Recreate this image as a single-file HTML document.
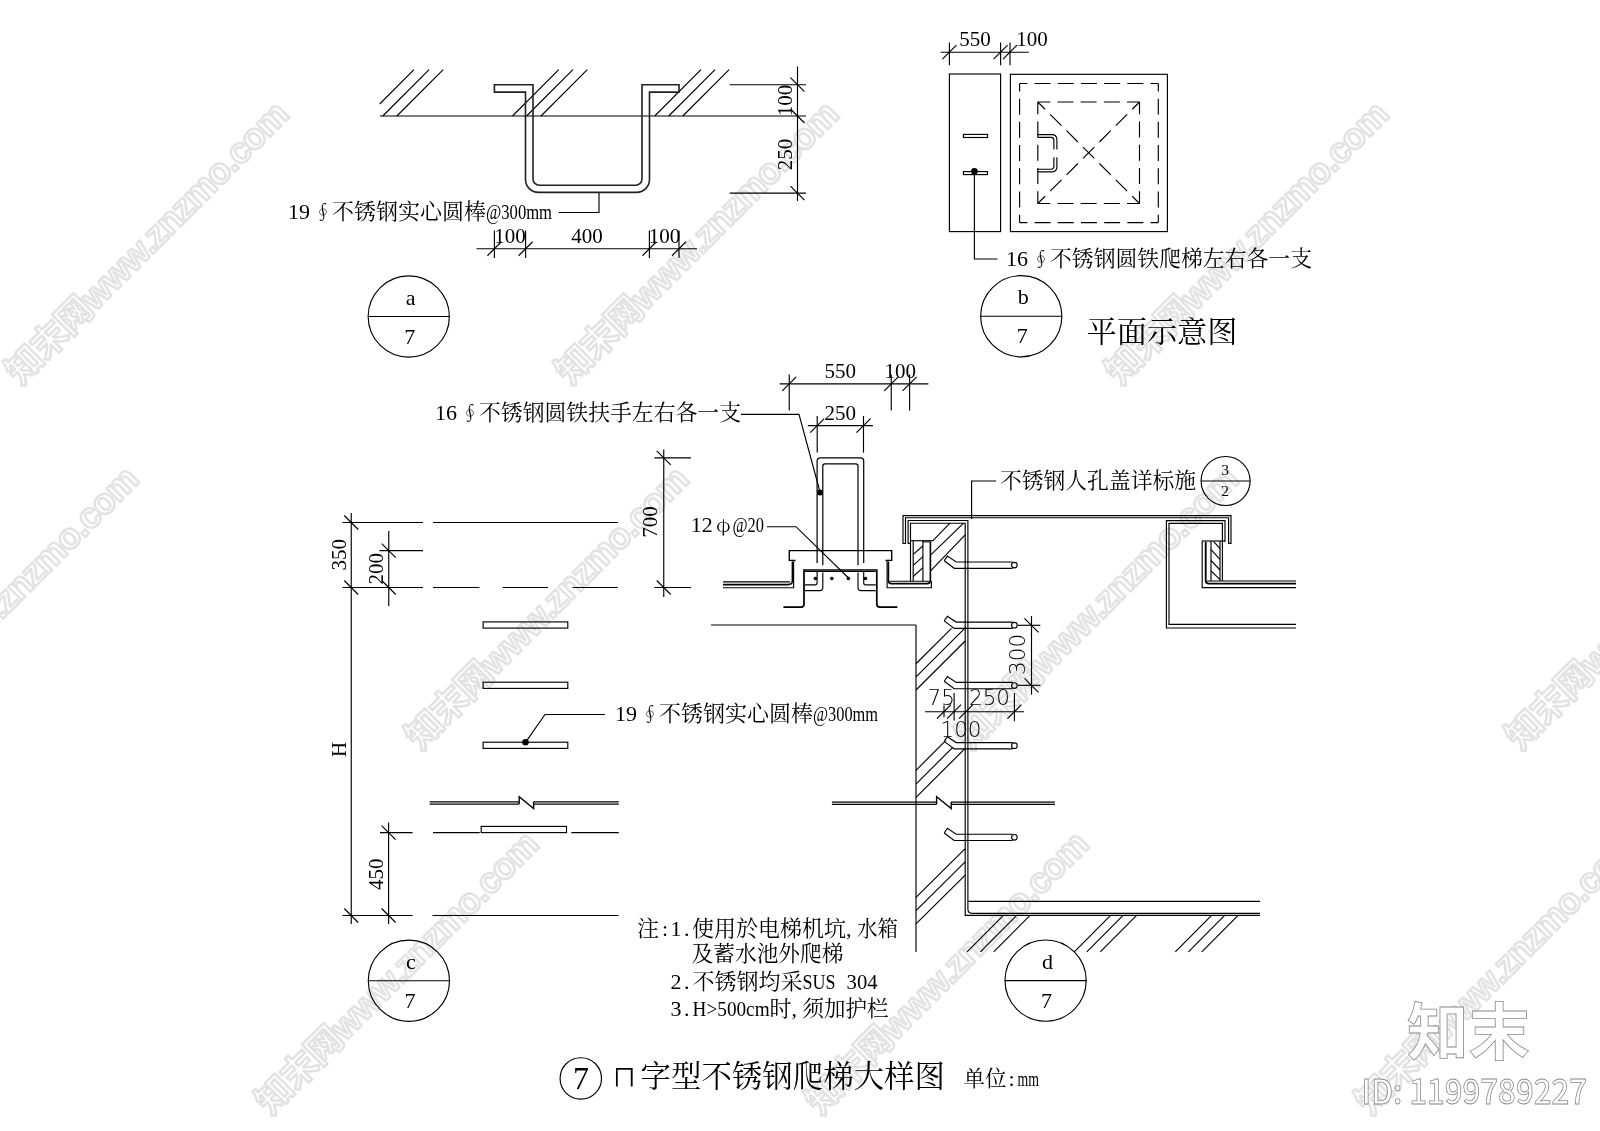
<!DOCTYPE html>
<html lang="zh"><head><meta charset="utf-8"><title>ㄇ字型不锈钢爬梯大样图</title>
<style>
html,body{margin:0;padding:0;background:#fff;}
body{width:1600px;height:1131px;overflow:hidden;}
svg{display:block;filter:grayscale(1);}
svg line,svg polyline,svg polygon,svg path,svg rect,svg circle{stroke:#000;fill:none;}
.t{font-family:"Liberation Serif","Noto Serif CJK SC",serif;fill:#000;stroke:none;}
.u{font-family:"Liberation Sans","Noto Sans CJK SC",sans-serif;fill:#000;stroke:none;}
.x{font-family:"DejaVu Sans","Liberation Sans",sans-serif;font-weight:200;fill:#000;stroke:none;}
.wm{font-family:"Liberation Sans","Noto Sans CJK SC",sans-serif;font-weight:bold;fill:#fff;stroke:#e3e3e3;stroke-width:2.5px;stroke-linejoin:round;}
.lg{font-family:"Liberation Sans","Noto Sans CJK SC",sans-serif;fill:#fff;stroke:#8a8a8a;stroke-width:0.8px;}
</style></head><body>
<svg width="1600" height="1131" viewBox="0 0 1600 1131">
<rect x="0" y="0" width="1600" height="1131" style="fill:#fff;stroke:none"/>
<g id="wm">
<text class="wm" x="20.8" y="386.2" font-size="36" textLength="382" lengthAdjust="spacing" transform="rotate(-45 20.8 386.2)">知末网www.znzmo.com</text>
<text class="wm" x="570.8" y="386.2" font-size="36" textLength="382" lengthAdjust="spacing" transform="rotate(-45 570.8 386.2)">知末网www.znzmo.com</text>
<text class="wm" x="1120.8" y="386.2" font-size="36" textLength="382" lengthAdjust="spacing" transform="rotate(-45 1120.8 386.2)">知末网www.znzmo.com</text>
<text class="wm" x="-129.2" y="751.2" font-size="36" textLength="382" lengthAdjust="spacing" transform="rotate(-45 -129.2 751.2)">知末网www.znzmo.com</text>
<text class="wm" x="420.8" y="751.2" font-size="36" textLength="382" lengthAdjust="spacing" transform="rotate(-45 420.8 751.2)">知末网www.znzmo.com</text>
<text class="wm" x="970.8" y="751.2" font-size="36" textLength="382" lengthAdjust="spacing" transform="rotate(-45 970.8 751.2)">知末网www.znzmo.com</text>
<text class="wm" x="1520.8" y="751.2" font-size="36" textLength="382" lengthAdjust="spacing" transform="rotate(-45 1520.8 751.2)">知末网www.znzmo.com</text>
<text class="wm" x="-279.2" y="1116.2" font-size="36" textLength="382" lengthAdjust="spacing" transform="rotate(-45 -279.2 1116.2)">知末网www.znzmo.com</text>
<text class="wm" x="270.8" y="1116.2" font-size="36" textLength="382" lengthAdjust="spacing" transform="rotate(-45 270.8 1116.2)">知末网www.znzmo.com</text>
<text class="wm" x="820.8" y="1116.2" font-size="36" textLength="382" lengthAdjust="spacing" transform="rotate(-45 820.8 1116.2)">知末网www.znzmo.com</text>
<text class="wm" x="1370.8" y="1116.2" font-size="36" textLength="382" lengthAdjust="spacing" transform="rotate(-45 1370.8 1116.2)">知末网www.znzmo.com</text>
</g>
<g id="da">
<line x1="380.00" y1="116.00" x2="806.00" y2="116.00" stroke-width="1.15" />
<line x1="379.70" y1="104.00" x2="414.00" y2="69.70" stroke-width="1.15" />
<line x1="382.80" y1="116.00" x2="429.10" y2="69.70" stroke-width="1.15" />
<line x1="396.90" y1="116.00" x2="443.20" y2="69.70" stroke-width="1.15" />
<line x1="512.50" y1="116.00" x2="558.80" y2="69.70" stroke-width="1.15" />
<line x1="526.60" y1="116.00" x2="572.90" y2="69.70" stroke-width="1.15" />
<line x1="541.00" y1="116.00" x2="587.30" y2="69.70" stroke-width="1.15" />
<line x1="654.70" y1="116.00" x2="701.00" y2="69.70" stroke-width="1.15" />
<line x1="668.75" y1="116.00" x2="715.05" y2="69.70" stroke-width="1.15" />
<line x1="682.80" y1="116.00" x2="729.10" y2="69.70" stroke-width="1.15" />
<path d="M494.4,84.8 H533 V178.9 A6.4,6.4 0 0 0 539.4,185.3 H635.6 A6.4,6.4 0 0 0 642,178.9 V84.8 H679 V92.1 H649.5 V179.4 A13,13 0 0 1 636.5,192.4 H538.5 A13,13 0 0 1 525.5,179.4 V92.1 H494.4 Z" stroke-width="1.61" style="stroke:#222"/>
<line x1="797.50" y1="66.50" x2="797.50" y2="201.00" stroke-width="1.15" />
<line x1="729.70" y1="84.70" x2="806.00" y2="84.70" stroke-width="1.15" />
<line x1="790.50" y1="77.70" x2="804.50" y2="91.70" stroke-width="1.15" />
<line x1="790.50" y1="109.00" x2="804.50" y2="123.00" stroke-width="1.15" />
<line x1="729.70" y1="193.10" x2="806.00" y2="193.10" stroke-width="1.15" />
<line x1="790.50" y1="186.10" x2="804.50" y2="200.10" stroke-width="1.15" />
<text class="t" x="791.50" y="100.50" font-size="21" text-anchor="middle" transform="rotate(-90 791.50 100.50)" >100</text>
<text class="t" x="791.50" y="154.50" font-size="21" text-anchor="middle" transform="rotate(-90 791.50 154.50)" >250</text>
<line x1="476.50" y1="248.75" x2="697.00" y2="248.75" stroke-width="1.15" />
<line x1="494.40" y1="230.60" x2="494.40" y2="258.00" stroke-width="1.15" />
<line x1="487.40" y1="255.75" x2="501.40" y2="241.75" stroke-width="1.15" />
<line x1="525.60" y1="230.60" x2="525.60" y2="258.00" stroke-width="1.15" />
<line x1="518.60" y1="255.75" x2="532.60" y2="241.75" stroke-width="1.15" />
<line x1="649.40" y1="230.60" x2="649.40" y2="258.00" stroke-width="1.15" />
<line x1="642.40" y1="255.75" x2="656.40" y2="241.75" stroke-width="1.15" />
<line x1="679.00" y1="230.60" x2="679.00" y2="258.00" stroke-width="1.15" />
<line x1="672.00" y1="255.75" x2="686.00" y2="241.75" stroke-width="1.15" />
<text class="t" x="510.00" y="242.50" font-size="21" text-anchor="middle" >100</text>
<text class="t" x="587.00" y="242.50" font-size="21" text-anchor="middle" >400</text>
<text class="t" x="664.50" y="242.50" font-size="21" text-anchor="middle" >100</text>
<polyline points="599.00,192.40 599.00,212.50 558.75,212.50" stroke-width="1.15" />
<text class="t" x="288.00" y="219.00" font-size="22" textLength="22.0" lengthAdjust="spacingAndGlyphs" >19</text>
<text class="t" x="314.00" y="219.00" font-size="18" >∮</text>
<text class="t" x="332.00" y="219.00" font-size="22" textLength="154.0" lengthAdjust="spacingAndGlyphs" >不锈钢实心圆棒</text>
<text class="t" x="486.00" y="219.00" font-size="22" textLength="66.0" lengthAdjust="spacingAndGlyphs" >@300mm</text>
<circle cx="408.75" cy="316.50" r="40.60" stroke-width="1.15" fill="none"/>
<line x1="368.15" y1="316.50" x2="449.35" y2="316.50" stroke-width="1.15" />
<text class="t" x="410.75" y="304.50" font-size="22" text-anchor="middle" >a</text>
<text class="t" x="409.75" y="343.50" font-size="22" text-anchor="middle" >7</text>
</g>
<g id="db">
<line x1="940.60" y1="52.20" x2="1028.75" y2="52.20" stroke-width="1.15" />
<line x1="949.40" y1="42.50" x2="949.40" y2="65.30" stroke-width="1.15" />
<line x1="942.40" y1="59.20" x2="956.40" y2="45.20" stroke-width="1.15" />
<line x1="1000.60" y1="42.50" x2="1000.60" y2="65.30" stroke-width="1.15" />
<line x1="993.60" y1="59.20" x2="1007.60" y2="45.20" stroke-width="1.15" />
<line x1="1010.00" y1="42.50" x2="1010.00" y2="65.30" stroke-width="1.15" />
<line x1="1003.00" y1="59.20" x2="1017.00" y2="45.20" stroke-width="1.15" />
<text class="t" x="975.00" y="46.00" font-size="21" text-anchor="middle" >550</text>
<text class="t" x="1032.00" y="46.00" font-size="21" text-anchor="middle" >100</text>
<rect x="949.40" y="74.00" width="51.20" height="157.60" stroke-width="1.15" />
<rect x="1010.40" y="74.30" width="157.00" height="157.30" stroke-width="1.15" />
<line x1="1019.60" y1="83.50" x2="1158.30" y2="83.50" stroke-width="1.15" stroke-dasharray="16.0 7.2" stroke-dashoffset="8.25"/>
<line x1="1158.30" y1="83.50" x2="1158.30" y2="222.60" stroke-width="1.15" stroke-dasharray="16.0 7.2" stroke-dashoffset="8.05"/>
<line x1="1019.60" y1="222.60" x2="1158.30" y2="222.60" stroke-width="1.15" stroke-dasharray="16.0 7.2" stroke-dashoffset="8.25"/>
<line x1="1019.60" y1="83.50" x2="1019.60" y2="222.60" stroke-width="1.15" stroke-dasharray="16.0 7.2" stroke-dashoffset="8.05"/>
<line x1="1037.80" y1="102.00" x2="1139.50" y2="102.00" stroke-width="1.15" stroke-dasharray="16.0 7.2" stroke-dashoffset="3.55"/>
<line x1="1139.50" y1="102.00" x2="1139.50" y2="203.50" stroke-width="1.15" stroke-dasharray="16.0 7.2" stroke-dashoffset="3.65"/>
<line x1="1037.80" y1="203.50" x2="1139.50" y2="203.50" stroke-width="1.15" stroke-dasharray="16.0 7.2" stroke-dashoffset="3.55"/>
<line x1="1037.80" y1="102.00" x2="1037.80" y2="203.50" stroke-width="1.15" stroke-dasharray="16.0 7.2" stroke-dashoffset="3.65"/>
<line x1="1037.80" y1="102.00" x2="1139.50" y2="203.50" stroke-width="1.15" stroke-dasharray="16.0 7.2" stroke-dashoffset="5.76"/>
<line x1="1139.50" y1="102.00" x2="1037.80" y2="203.50" stroke-width="1.15" stroke-dasharray="16.0 7.2" stroke-dashoffset="5.76"/>
<path d="M1037.8,134.6 H1052 Q1056.9,134.6 1056.9,139.8 V149.5 M1056.9,157.2 V166.6 Q1056.9,171.9 1052,171.9 H1037.8" stroke-width="1.15" />
<path d="M1037.8,137.3 H1051 Q1053.9,137.3 1053.9,140.5 V149.5 M1053.9,157.2 V166 Q1053.9,169.2 1051,169.2 H1037.8" stroke-width="1.15" />
<rect x="963.40" y="134.40" width="24.10" height="3.10" stroke-width="1.15" />
<rect x="963.40" y="171.60" width="24.10" height="3.00" stroke-width="1.15" />
<circle cx="974.40" cy="171.25" r="3.30" style="fill:#000;stroke:none"/>
<polyline points="974.40,171.25 974.40,259.00 997.50,259.00" stroke-width="1.15" />
<text class="t" x="1006.00" y="266.00" font-size="22" textLength="22.0" lengthAdjust="spacingAndGlyphs" >16</text>
<text class="t" x="1032.00" y="266.00" font-size="18" >∮</text>
<text class="t" x="1050.00" y="266.00" font-size="22" textLength="262.0" lengthAdjust="spacingAndGlyphs" >不锈钢圆铁爬梯左右各一支</text>
<circle cx="1021.25" cy="316.25" r="40.60" stroke-width="1.15" fill="none"/>
<line x1="980.65" y1="316.25" x2="1061.85" y2="316.25" stroke-width="1.15" />
<text class="t" x="1023.25" y="304.25" font-size="22" text-anchor="middle" >b</text>
<text class="t" x="1022.25" y="343.25" font-size="22" text-anchor="middle" >7</text>
<text class="t" x="1086.50" y="342.00" font-size="30" textLength="151.0" lengthAdjust="spacingAndGlyphs" >平面示意图</text>
</g>
<g id="dc">
<line x1="351.25" y1="513.00" x2="351.25" y2="924.00" stroke-width="1.15" />
<line x1="344.25" y1="515.50" x2="358.25" y2="529.50" stroke-width="1.15" />
<line x1="344.25" y1="580.50" x2="358.25" y2="594.50" stroke-width="1.15" />
<line x1="344.25" y1="908.50" x2="358.25" y2="922.50" stroke-width="1.15" />
<line x1="342.50" y1="522.50" x2="423.00" y2="522.50" stroke-width="1.15" />
<line x1="342.50" y1="587.50" x2="423.00" y2="587.50" stroke-width="1.15" />
<line x1="342.50" y1="915.50" x2="412.60" y2="915.50" stroke-width="1.15" />
<line x1="388.75" y1="531.00" x2="388.75" y2="606.00" stroke-width="1.15" />
<line x1="381.75" y1="543.60" x2="395.75" y2="557.60" stroke-width="1.15" />
<line x1="381.75" y1="580.50" x2="395.75" y2="594.50" stroke-width="1.15" />
<line x1="379.40" y1="550.60" x2="423.00" y2="550.60" stroke-width="1.15" />
<line x1="388.60" y1="822.50" x2="388.60" y2="924.00" stroke-width="1.15" />
<line x1="381.60" y1="825.60" x2="395.60" y2="839.60" stroke-width="1.15" />
<line x1="381.60" y1="908.50" x2="395.60" y2="922.50" stroke-width="1.15" />
<line x1="380.00" y1="832.60" x2="412.60" y2="832.60" stroke-width="1.15" />
<text class="t" x="345.60" y="554.70" font-size="21" text-anchor="middle" transform="rotate(-90 345.60 554.70)" >350</text>
<text class="t" x="382.50" y="568.75" font-size="21" text-anchor="middle" transform="rotate(-90 382.50 568.75)" >200</text>
<text class="t" x="345.60" y="749.40" font-size="21" text-anchor="middle" transform="rotate(-90 345.60 749.40)" >H</text>
<text class="t" x="383.00" y="874.25" font-size="21" text-anchor="middle" transform="rotate(-90 383.00 874.25)" >450</text>
<line x1="433.00" y1="522.50" x2="617.80" y2="522.50" stroke-width="1.15" />
<line x1="433.00" y1="587.50" x2="479.40" y2="587.50" stroke-width="1.15" />
<line x1="502.80" y1="587.50" x2="548.00" y2="587.50" stroke-width="1.15" />
<line x1="572.50" y1="587.50" x2="617.80" y2="587.50" stroke-width="1.15" />
<rect x="483.10" y="621.90" width="84.70" height="6.20" stroke-width="1.15" />
<rect x="483.10" y="682.20" width="84.70" height="6.20" stroke-width="1.15" />
<rect x="483.10" y="742.20" width="84.70" height="6.20" stroke-width="1.15" />
<rect x="481.20" y="826.40" width="85.30" height="6.20" stroke-width="1.15" />
<line x1="433.00" y1="832.60" x2="479.80" y2="832.60" stroke-width="1.15" />
<line x1="571.30" y1="832.60" x2="618.80" y2="832.60" stroke-width="1.15" />
<line x1="432.50" y1="915.50" x2="618.50" y2="915.50" stroke-width="1.15" />
<line x1="429.60" y1="801.80" x2="519.20" y2="801.80" stroke-width="1.15" />
<line x1="533.60" y1="801.80" x2="618.80" y2="801.80" stroke-width="1.15" />
<line x1="429.60" y1="804.10" x2="519.20" y2="804.10" stroke-width="1.15" />
<line x1="533.60" y1="804.10" x2="618.80" y2="804.10" stroke-width="1.15" />
<polyline points="519.20,804.10 519.20,796.80 533.60,808.50 533.60,801.80" stroke-width="1.38" />
<circle cx="525.50" cy="742.30" r="3.30" style="fill:#000;stroke:none"/>
<polyline points="525.50,742.30 545.00,714.50 605.00,714.50" stroke-width="1.15" />
<text class="t" x="615.00" y="721.00" font-size="22" textLength="22.0" lengthAdjust="spacingAndGlyphs" >19</text>
<text class="t" x="641.00" y="721.00" font-size="18" >∮</text>
<text class="t" x="659.00" y="721.00" font-size="22" textLength="154.0" lengthAdjust="spacingAndGlyphs" >不锈钢实心圆棒</text>
<text class="t" x="813.00" y="721.00" font-size="22" textLength="65.0" lengthAdjust="spacingAndGlyphs" >@300mm</text>
<circle cx="408.90" cy="980.75" r="40.60" stroke-width="1.15" fill="none"/>
<line x1="368.30" y1="980.75" x2="449.50" y2="980.75" stroke-width="1.15" />
<text class="t" x="410.90" y="968.75" font-size="22" text-anchor="middle" >c</text>
<text class="t" x="409.90" y="1007.75" font-size="22" text-anchor="middle" >7</text>
<line x1="663.75" y1="449.40" x2="663.75" y2="597.00" stroke-width="1.15" />
<line x1="656.75" y1="450.80" x2="670.75" y2="464.80" stroke-width="1.15" />
<line x1="654.40" y1="457.80" x2="691.00" y2="457.80" stroke-width="1.15" />
<line x1="656.75" y1="580.50" x2="670.75" y2="594.50" stroke-width="1.15" />
<line x1="654.40" y1="587.50" x2="691.00" y2="587.50" stroke-width="1.15" />
<text class="t" x="657.50" y="521.90" font-size="21" text-anchor="middle" transform="rotate(-90 657.50 521.90)" >700</text>
<text class="t" x="435.00" y="420.00" font-size="22" textLength="22.0" lengthAdjust="spacingAndGlyphs" >16</text>
<text class="t" x="461.00" y="420.00" font-size="18" >∮</text>
<text class="t" x="479.00" y="420.00" font-size="22" textLength="262.0" lengthAdjust="spacingAndGlyphs" >不锈钢圆铁扶手左右各一支</text>
<polyline points="741.00,414.30 799.00,414.30 819.50,490.00" stroke-width="1.15" />
<text class="t" x="690.80" y="532.00" font-size="22" textLength="22.0" lengthAdjust="spacingAndGlyphs" >12</text>
<text class="t" x="716.30" y="531.50" font-size="18.5" style="font-family:'Noto Serif CJK SC',serif">φ</text>
<text class="t" x="732.50" y="532.00" font-size="22" textLength="31.5" lengthAdjust="spacingAndGlyphs" >@20</text>
<polyline points="767.00,526.70 796.00,526.70 848.50,578.00" stroke-width="1.15" />
</g>
<g id="dd">
<line x1="779.70" y1="383.90" x2="928.40" y2="383.90" stroke-width="1.15" />
<line x1="789.25" y1="374.40" x2="789.25" y2="410.40" stroke-width="1.15" />
<line x1="782.25" y1="390.90" x2="796.25" y2="376.90" stroke-width="1.15" />
<line x1="891.25" y1="374.40" x2="891.25" y2="410.40" stroke-width="1.15" />
<line x1="884.25" y1="390.90" x2="898.25" y2="376.90" stroke-width="1.15" />
<line x1="909.60" y1="374.40" x2="909.60" y2="410.40" stroke-width="1.15" />
<line x1="902.60" y1="390.90" x2="916.60" y2="376.90" stroke-width="1.15" />
<text class="t" x="840.25" y="377.75" font-size="21" text-anchor="middle" >550</text>
<text class="t" x="900.25" y="377.75" font-size="21" text-anchor="middle" >100</text>
<line x1="807.80" y1="425.60" x2="872.90" y2="425.60" stroke-width="1.15" />
<line x1="817.20" y1="416.00" x2="817.20" y2="452.60" stroke-width="1.15" />
<line x1="810.20" y1="432.60" x2="824.20" y2="418.60" stroke-width="1.15" />
<line x1="863.50" y1="416.00" x2="863.50" y2="452.60" stroke-width="1.15" />
<line x1="856.50" y1="432.60" x2="870.50" y2="418.60" stroke-width="1.15" />
<text class="t" x="840.25" y="419.75" font-size="21" text-anchor="middle" >250</text>
<path d="M817.1,563 V461 Q817.1,457.8 820.3,457.8 H860.5 Q863.7,457.8 863.7,461 V563" stroke-width="1.21" />
<path d="M822.8,565.2 V466 Q822.8,463.8 825,463.8 H855.8 Q858,463.8 858,466 V565.2" stroke-width="1.21" />
<circle cx="820.00" cy="492.50" r="3.00" style="fill:#000;stroke:none"/>
<path d="M794.8,561.2 V560.4 H789.3 V550.6 H891.7 V560.4 H886.2 V561.2" stroke-width="1.38" />
<line x1="723.00" y1="581.80" x2="790.00" y2="581.80" stroke-width="1.15" />
<path d="M723,584.6 H788 Q792.4,584.6 792.4,580.5 V561.5" stroke-width="1.55" />
<path d="M723,587.75 H793.6 V561.2" stroke-width="1.15" />
<path d="M783.4,607.2 H801 Q804,607.2 804,604 V570 H876.8 V604 Q876.8,607.2 880,607.2 H897.4" stroke-width="1.72" />
<line x1="805.00" y1="571.60" x2="875.80" y2="571.60" stroke-width="1.03" />
<path d="M817.1,571.5 V582.7 Q817.1,584.9 815,584.9 H805" stroke-width="1.15" />
<path d="M822.8,572.6 V587.5 Q822.8,590.6 819.7,590.6 H805" stroke-width="1.15" />
<path d="M863.7,571.5 V582.7 Q863.7,584.9 865.8,584.9 H875.8" stroke-width="1.15" />
<path d="M858,572.6 V587.5 Q858,590.6 861.1,590.6 H875.8" stroke-width="1.15" />
<circle cx="815.40" cy="578.50" r="1.80" style="fill:#000;stroke:none"/>
<circle cx="831.80" cy="578.50" r="1.80" style="fill:#000;stroke:none"/>
<circle cx="848.40" cy="578.50" r="1.80" style="fill:#000;stroke:none"/>
<circle cx="865.40" cy="578.50" r="1.80" style="fill:#000;stroke:none"/>
<path d="M888.4,561.5 V580.5 Q888.4,583.6 891.5,583.6 H927 Q930.4,583.6 930.4,580.5 V541.5" stroke-width="1.61" />
<path d="M887.1,561.2 V587.7 H931.4 V581.3" stroke-width="1.15" />
<line x1="889.50" y1="581.30" x2="929.50" y2="581.30" stroke-width="1.03" />
<path d="M903,515.6 H1231 V543.4 H1228.6 V517.7 H905.5 V543.5 H903 Z" stroke-width="1.15" />
<path d="M910.5,543.3 H908.1 V520.5 H967.9 V909 Q967.9,913.3 972,913.3 H1260" stroke-width="1.15" />
<path d="M910.5,581.3 V523.2 H965.2 V915.4 H1260" stroke-width="1.15" />
<line x1="967.90" y1="901.30" x2="1260.00" y2="901.30" stroke-width="1.15" />
<line x1="910.50" y1="540.70" x2="933.00" y2="540.70" stroke-width="1.15" />
<line x1="913.20" y1="540.70" x2="913.20" y2="581.30" stroke-width="1.15" />
<line x1="922.90" y1="540.70" x2="922.90" y2="581.30" stroke-width="1.15" />
<line x1="913.20" y1="554.40" x2="922.90" y2="546.00" stroke-width="1.15" />
<line x1="913.20" y1="565.40" x2="922.90" y2="556.60" stroke-width="1.15" />
<line x1="913.20" y1="576.50" x2="922.90" y2="567.60" stroke-width="1.15" />
<line x1="922.90" y1="541.90" x2="930.40" y2="541.90" stroke-width="1.03" />
<line x1="933.00" y1="540.70" x2="949.90" y2="523.20" stroke-width="1.15" />
<line x1="930.80" y1="554.80" x2="963.60" y2="523.20" stroke-width="1.15" />
<line x1="930.80" y1="570.70" x2="965.20" y2="534.90" stroke-width="1.15" />
<line x1="711.00" y1="625.00" x2="916.00" y2="625.00" stroke-width="1.15" />
<line x1="916.00" y1="625.00" x2="916.00" y2="952.00" stroke-width="1.15" />
<path d="M944.2,560.8 L947.4,556.1 L956.2,562.0 H1012.6" stroke-width="1.15" />
<path d="M944.2,560.8 L954.2,568.3 H1012.6" stroke-width="1.15" />
<circle cx="1014.40" cy="565.10" r="2.80" stroke-width="1.15" fill="none"/>
<path d="M944.2,620.9 L947.4,616.2 L956.2,622.1 H1012.6" stroke-width="1.15" />
<path d="M944.2,620.9 L954.2,628.4 H1012.6" stroke-width="1.15" />
<circle cx="1014.40" cy="625.20" r="2.80" stroke-width="1.15" fill="none"/>
<path d="M944.2,681.2 L947.4,676.5 L956.2,682.4 H1012.6" stroke-width="1.15" />
<path d="M944.2,681.2 L954.2,688.7 H1012.6" stroke-width="1.15" />
<circle cx="1014.40" cy="685.50" r="2.80" stroke-width="1.15" fill="none"/>
<path d="M944.2,741.4 L947.4,736.7 L956.2,742.6 H1012.6" stroke-width="1.15" />
<path d="M944.2,741.4 L954.2,748.9 H1012.6" stroke-width="1.15" />
<circle cx="1014.40" cy="745.70" r="2.80" stroke-width="1.15" fill="none"/>
<path d="M944.2,833.0 L947.4,828.3 L956.2,834.2 H1012.6" stroke-width="1.15" />
<path d="M944.2,833.0 L954.2,840.5 H1012.6" stroke-width="1.15" />
<circle cx="1014.40" cy="837.30" r="2.80" stroke-width="1.15" fill="none"/>
<line x1="916.00" y1="663.75" x2="951.50" y2="628.40" stroke-width="1.15" />
<line x1="916.00" y1="676.90" x2="965.20" y2="627.90" stroke-width="1.15" />
<line x1="916.00" y1="690.00" x2="965.20" y2="641.00" stroke-width="1.15" />
<line x1="916.00" y1="770.30" x2="945.60" y2="740.70" stroke-width="1.15" />
<line x1="916.00" y1="784.10" x2="953.00" y2="747.10" stroke-width="1.15" />
<line x1="916.00" y1="797.40" x2="965.20" y2="748.40" stroke-width="1.15" />
<line x1="965.20" y1="848.60" x2="916.00" y2="897.40" stroke-width="1.15" />
<line x1="965.20" y1="861.80" x2="916.00" y2="910.60" stroke-width="1.15" />
<line x1="965.20" y1="875.10" x2="916.00" y2="923.90" stroke-width="1.15" />
<line x1="1031.50" y1="616.00" x2="1031.50" y2="694.70" stroke-width="1.15" />
<line x1="1024.50" y1="618.30" x2="1038.50" y2="632.30" stroke-width="1.15" />
<line x1="1017.50" y1="625.30" x2="1040.30" y2="625.30" stroke-width="1.15" />
<line x1="1024.50" y1="678.30" x2="1038.50" y2="692.30" stroke-width="1.15" />
<line x1="1017.50" y1="685.30" x2="1040.30" y2="685.30" stroke-width="1.15" />
<text class="x" x="1025.30" y="654.40" font-size="21.5" text-anchor="middle" transform="rotate(-90 1025.30 654.40)" >300</text>
<line x1="925.00" y1="711.70" x2="1024.10" y2="711.70" stroke-width="1.15" />
<line x1="944.00" y1="705.60" x2="944.00" y2="717.30" stroke-width="1.15" />
<line x1="954.10" y1="693.00" x2="954.10" y2="720.50" stroke-width="1.15" />
<line x1="1014.40" y1="693.00" x2="1014.40" y2="721.30" stroke-width="1.15" />
<line x1="937.00" y1="718.70" x2="951.00" y2="704.70" stroke-width="1.15" />
<line x1="947.10" y1="718.70" x2="961.10" y2="704.70" stroke-width="1.15" />
<line x1="959.00" y1="718.70" x2="973.00" y2="704.70" stroke-width="1.15" />
<line x1="1007.40" y1="718.70" x2="1021.40" y2="704.70" stroke-width="1.15" />
<text class="x" x="927.60" y="705.10" font-size="21.5" >75</text>
<text class="x" x="969.00" y="705.10" font-size="21.5" >250</text>
<text class="x" x="940.50" y="736.90" font-size="21.5" >100</text>
<line x1="831.90" y1="802.10" x2="936.60" y2="802.10" stroke-width="1.15" />
<line x1="951.20" y1="802.10" x2="1054.90" y2="802.10" stroke-width="1.15" />
<line x1="831.90" y1="804.30" x2="936.60" y2="804.30" stroke-width="1.15" />
<line x1="951.20" y1="804.30" x2="1054.90" y2="804.30" stroke-width="1.15" />
<polyline points="936.60,804.30 936.60,796.80 951.20,808.50 951.20,802.10" stroke-width="1.38" />
<line x1="1003.40" y1="915.40" x2="967.10" y2="951.90" stroke-width="1.15" />
<line x1="1016.70" y1="915.40" x2="980.40" y2="951.90" stroke-width="1.15" />
<line x1="1030.00" y1="915.40" x2="993.70" y2="951.90" stroke-width="1.15" />
<line x1="1110.60" y1="915.40" x2="1074.30" y2="951.90" stroke-width="1.15" />
<line x1="1123.10" y1="915.40" x2="1086.80" y2="951.90" stroke-width="1.15" />
<line x1="1136.60" y1="915.40" x2="1100.30" y2="951.90" stroke-width="1.15" />
<line x1="1211.60" y1="915.40" x2="1175.30" y2="951.90" stroke-width="1.15" />
<line x1="1224.70" y1="915.40" x2="1188.40" y2="951.90" stroke-width="1.15" />
<line x1="1238.10" y1="915.40" x2="1201.80" y2="951.90" stroke-width="1.15" />
<path d="M1225,542 V520.6 H1166.4 V628 H1296" stroke-width="1.15" />
<path d="M1222.4,581 V523.4 H1169 V624.4 H1296" stroke-width="1.15" />
<line x1="1202.00" y1="541.00" x2="1225.00" y2="541.00" stroke-width="1.15" />
<path d="M1202.2,541 V587.6 H1296" stroke-width="1.15" />
<path d="M1205.7,542 V580.5 Q1205.7,583.6 1209,583.6 H1296" stroke-width="1.84" />
<line x1="1207.00" y1="581.00" x2="1296.00" y2="581.00" stroke-width="1.03" />
<line x1="1211.00" y1="541.00" x2="1211.00" y2="581.00" stroke-width="1.15" />
<line x1="1220.00" y1="541.00" x2="1220.00" y2="581.00" stroke-width="1.15" />
<line x1="1211.00" y1="549.60" x2="1220.00" y2="559.40" stroke-width="1.15" />
<line x1="1211.00" y1="560.30" x2="1220.00" y2="570.00" stroke-width="1.15" />
<line x1="1211.00" y1="570.90" x2="1220.00" y2="579.70" stroke-width="1.15" />
<line x1="1213.70" y1="541.70" x2="1220.00" y2="548.60" stroke-width="1.15" />
<polyline points="971.60,519.00 971.60,481.00 996.00,481.00" stroke-width="1.15" />
<text class="t" x="1000.00" y="488.00" font-size="22" textLength="196.0" lengthAdjust="spacingAndGlyphs" >不锈钢人孔盖详标施</text>
<circle cx="1225.60" cy="481.00" r="24.50" stroke-width="1.15" fill="none"/>
<line x1="1201.10" y1="481.00" x2="1250.10" y2="481.00" stroke-width="1.15" />
<text class="t" x="1225.20" y="474.60" font-size="15.5" text-anchor="middle" >3</text>
<text class="t" x="1225.20" y="495.80" font-size="15.5" text-anchor="middle" >2</text>
<circle cx="1045.60" cy="980.60" r="40.60" stroke-width="1.15" fill="none"/>
<line x1="1005.00" y1="980.60" x2="1086.20" y2="980.60" stroke-width="1.15" />
<text class="t" x="1047.60" y="968.60" font-size="22" text-anchor="middle" >d</text>
<text class="t" x="1046.60" y="1007.60" font-size="22" text-anchor="middle" >7</text>
</g>
<g id="notes">
<text class="t" x="637.00" y="936.00" font-size="22" >注</text>
<text class="t" x="662.00" y="936.00" font-size="22" >:</text>
<text class="t" x="670.60" y="936.00" font-size="22" >1</text>
<text class="t" x="684.00" y="936.00" font-size="22" >.</text>
<text class="t" x="692.00" y="936.00" font-size="22" textLength="154.0" lengthAdjust="spacingAndGlyphs" >使用於电梯机坑</text>
<text class="t" x="846.00" y="936.00" font-size="22" >,</text>
<text class="t" x="857.00" y="936.00" font-size="22" textLength="41.0" lengthAdjust="spacingAndGlyphs" >水箱</text>
<text class="t" x="691.50" y="961.30" font-size="22" textLength="152.0" lengthAdjust="spacingAndGlyphs" >及蓄水池外爬梯</text>
<text class="t" x="670.60" y="989.40" font-size="22" >2</text>
<text class="t" x="684.00" y="989.40" font-size="22" >.</text>
<text class="t" x="692.60" y="989.40" font-size="22" textLength="110.0" lengthAdjust="spacingAndGlyphs" >不锈钢均采</text>
<text class="t" x="802.60" y="989.40" font-size="22" textLength="33.0" lengthAdjust="spacingAndGlyphs" >SUS</text>
<text class="t" x="846.60" y="989.40" font-size="22" textLength="31.0" lengthAdjust="spacingAndGlyphs" >304</text>
<text class="t" x="670.60" y="1015.60" font-size="22" >3</text>
<text class="t" x="684.00" y="1015.60" font-size="22" >.</text>
<text class="t" x="692.60" y="1015.60" font-size="22" textLength="77.0" lengthAdjust="spacingAndGlyphs" >H&gt;500cm</text>
<text class="t" x="769.60" y="1015.60" font-size="22" >时</text>
<text class="t" x="791.60" y="1015.60" font-size="22" >,</text>
<text class="t" x="802.60" y="1015.60" font-size="22" textLength="86.0" lengthAdjust="spacingAndGlyphs" >须加护栏</text>
<circle cx="580.80" cy="1078.40" r="20.70" stroke-width="1.15" fill="none"/>
<text class="t" x="581.00" y="1088.50" font-size="32" text-anchor="middle" >7</text>
<text class="u" x="613.00" y="1084.60" font-size="22.5" >ㄇ</text>
<text class="t" x="640.60" y="1087.30" font-size="30.5" textLength="304.4" lengthAdjust="spacingAndGlyphs" >字型不锈钢爬梯大样图</text>
<text class="t" x="963.60" y="1085.60" font-size="22" textLength="43.0" lengthAdjust="spacingAndGlyphs" >单位</text>
<text class="t" x="1008.50" y="1085.60" font-size="22" >:</text>
<text class="t" x="1017.40" y="1085.60" font-size="22" textLength="21.5" lengthAdjust="spacingAndGlyphs" >mm</text>
</g>
<g id="logo">
<text class="lg" x="1407" y="1055" font-size="62" font-weight="bold" textLength="123" lengthAdjust="spacingAndGlyphs">知末</text>
<text class="lg" x="1361.5" y="1103.7" font-size="33.5" textLength="225.5" lengthAdjust="spacingAndGlyphs" style="font-family:'Noto Sans CJK SC','Liberation Sans',sans-serif;font-weight:500">ID: 1199789227</text>
</g>
</svg>
</body></html>
